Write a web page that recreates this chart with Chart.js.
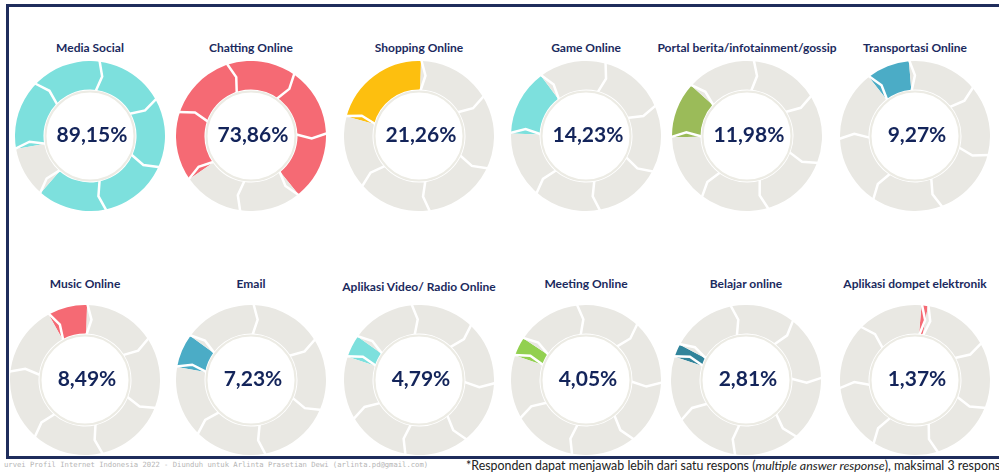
<!DOCTYPE html>
<html>
<head>
<meta charset="utf-8">
<script src="https://cdn.jsdelivr.net/npm/chart.js@4"></script>
<style>
    html, body { margin: 0; padding: 0; background: #fff; }
    body { width: 999px; height: 474px; position: relative; overflow: hidden; font-family: Lato, "Open Sans", sans-serif; }
    #frame { position: absolute; left: 6px; top: 4px; width: 1010px; height: 449px; border: 3px solid #1f2d5c; box-sizing: content-box; }
    .title { position: absolute; width: 220px; text-align: center; font-weight: bold; font-size: 12px; color: #1b2a5e; white-space: nowrap; }
    .ring { position: absolute; }
    .value { position: absolute; width: 150px; text-align: center; font-weight: bold; font-size: 21px; color: #13245a; }
    #watermark { position: absolute; left: 4px; top: 460px; font-family: "DejaVu Sans Mono", monospace; font-size: 7.2px; color: #b5b5b5; white-space: nowrap; }
    #note { position: absolute; left: 466px; top: 458px; font-size: 12.4px; color: #222; white-space: nowrap; }
</style>
</head>
<body>
<div id="frame"></div>
<div id="charts"></div>
<div id="watermark">urvei Profil Internet Indonesia 2022 - Diunduh untuk Arlinta Prasetian Dewi (arlinta.pd@gmail.com)</div>
<div id="note">*Responden dapat menjawab lebih dari satu respons (<i>multiple answer response</i>), maksimal 3 respons</div>
<script>
// --- Data ---
const categories = [
    'Media Social', 'Chatting Online', 'Shopping Online', 'Game Online',
    'Portal berita/infotainment/gossip', 'Transportasi Online',
    'Music Online', 'Email', 'Aplikasi Video/ Radio Online', 'Meeting Online',
    'Belajar online', 'Aplikasi dompet elektronik'
];
const percentages = [89.15, 73.86, 21.26, 14.23, 11.98, 9.27, 8.49, 7.23, 4.79, 4.05, 2.81, 1.37];

// --- Styles / layout ---
const ringColors = ['#7de0dd', '#f56a74', '#fdbf0f', '#7de0dd', '#9bbb59', '#4bacc6',
                    '#f56a74', '#4bacc6', '#7de0dd', '#92d050', '#31849b', '#f56a74'];
const restColor = '#e9e8e3';
const rotations = [-100, -125, -75, -88, -91, -38, -29, -80, -72, -71, -72, 5];
const centersX = [90, 251, 419, 586, 747, 915, 85, 251, 419, 586, 746, 915];
const rowY = [136, 380];
const titleY = [40, 276];
const RADIUS = 75;

const chevronPlugin = {
    id: 'chevrons',
    afterDatasetsDraw(chart) {
        const arc = chart.getDatasetMeta(0).data[0];
        const { x, y, innerRadius, outerRadius, startAngle, endAngle } =
            arc.getProps(['x', 'y', 'innerRadius', 'outerRadius', 'startAngle', 'endAngle'], true);
        const ctx = chart.ctx;
        const sweep = endAngle - startAngle;
        const rest = Math.PI * 2 - sweep;
        const seg = 0.9;
        const cuts = [];
        const m = Math.max(1, Math.round(sweep / seg));
        for (let i = 0; i < m; i++) cuts.push(startAngle + i * sweep / m);
        const n = Math.max(1, Math.round(rest / seg));
        for (let i = 0; i < n; i++) cuts.push(endAngle + i * rest / n);

        const mid = (innerRadius + outerRadius) / 2;
        ctx.save();
        ctx.strokeStyle = '#ffffff';
        ctx.lineWidth = 2.5;
        cuts.forEach(a => {
            const tip = a + 0.08;
            ctx.beginPath();
            ctx.moveTo(x + Math.cos(a) * (outerRadius + 2), y + Math.sin(a) * (outerRadius + 2));
            ctx.lineTo(x + Math.cos(tip) * mid, y + Math.sin(tip) * mid);
            ctx.lineTo(x + Math.cos(a) * (innerRadius - 2), y + Math.sin(a) * (innerRadius - 2));
            ctx.stroke();
        });
        // thin outline of the white centre
        ctx.beginPath();
        ctx.arc(x, y, innerRadius - 2, 0, Math.PI * 2);
        ctx.strokeStyle = '#ecebe4';
        ctx.lineWidth = 2;
        ctx.stroke();
        ctx.restore();
    }
};

function formatPercent(v) {
    return v.toFixed(2).replace('.', ',') + '%';
}

function buildRing(index) {
    const holder = document.getElementById('charts');
    const row = index < 6 ? 0 : 1;
    const cx = centersX[index];
    const cy = rowY[row];

    const title = document.createElement('div');
    title.className = 'title';
    title.style.left = (cx - 110) + 'px';
    title.style.top = titleY[row] + (index === 8 ? 3 : 0) + 'px';
    title.textContent = categories[index];
    holder.appendChild(title);

    const canvas = document.createElement('canvas');
    canvas.className = 'ring';
    canvas.width = RADIUS * 2;
    canvas.height = RADIUS * 2;
    canvas.style.left = (cx - RADIUS) + 'px';
    canvas.style.top = (cy - RADIUS) + 'px';
    holder.appendChild(canvas);

    const label = document.createElement('div');
    label.className = 'value';
    label.style.left = (cx - RADIUS + 2) + 'px';
    label.style.top = (cy - 15) + 'px';
    label.textContent = formatPercent(percentages[index]);
    holder.appendChild(label);

    new Chart(canvas, {
        type: 'doughnut',
        data: {
            labels: [categories[index], 'Lainnya'],
            datasets: [{
                data: [percentages[index], 100 - percentages[index]],
                backgroundColor: [ringColors[index], restColor],
                borderWidth: 0
            }]
        },
        options: {
            responsive: false,
            animation: false,
            cutout: '62%',
            rotation: rotations[index],
            layout: { padding: 0 },
            plugins: { legend: { display: false }, tooltip: { enabled: false } }
        },
        plugins: [chevronPlugin]
    });
}

document.addEventListener('DOMContentLoaded', () => {
    percentages.forEach((v, i) => buildRing(i));
});
</script>
</body>
</html>
